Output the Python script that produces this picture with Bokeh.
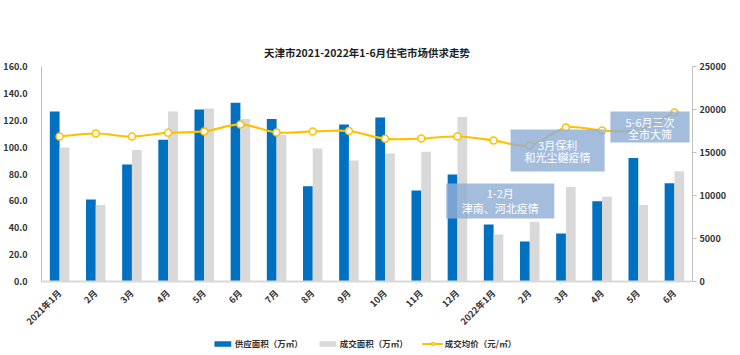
from bokeh.plotting import figure
from bokeh.layouts import column
from bokeh.models import (Range1d, LinearAxis, FixedTicker, Legend, LegendItem,
                          ColumnDataSource, NumeralTickFormatter)
from bokeh.embed import file_html
from bokeh.resources import INLINE
from bokeh.core.properties import value
from bokeh.transform import dodge

# ---- data ----
months = ["2021年1月", "2月", "3月", "4月", "5月", "6月", "7月", "8月", "9月",
          "10月", "11月", "12月", "2022年1月", "2月", "3月", "4月", "5月", "6月"]
supply = [126.5, 61.0, 87.0, 105.5, 128.0, 133.0, 121.0, 70.8, 116.8,
          122.0, 67.7, 79.6, 42.5, 29.8, 35.7, 59.8, 92.0, 73.2]
deal = [99.7, 57.0, 97.8, 126.5, 128.8, 121.0, 109.0, 99.0, 90.0,
        95.3, 96.5, 122.5, 35.0, 44.5, 70.3, 63.0, 57.0, 82.0]
price = [16860, 17210, 16860, 17300, 17450, 18260, 17330, 17450, 17500,
         16600, 16630, 16860, 16400, 15820, 17900, 17560, 17600, 19650]

left_ticks = [0, 20, 40, 60, 80, 100, 120, 140, 160]
right_ticks = [0, 5000, 10000, 15000, 20000, 25000]
legend_labels = ["供应面积（万㎡）", "成交面积（万㎡）", "成交均价（元/㎡）"]

note_lines = [["1-2月", "津南、河北疫情"], ["3月保利", "和光尘樾疫情"], ["5-6月三次", "全市大筛"]]
# annotation box extents (x in category index units, y in left-axis units)
note_left = [10.69, 12.47, 15.23]
note_right = [13.68, 15.07, 17.42]
note_bottom = [46.9, 81.8, 103.4]
note_top = [72.9, 113.1, 126.5]
note_text_y = [[65.5, 55.0], [101.5, 92.5], [119.0, 110.0]]

FONT = "Noto Sans CJK SC"
BLUE = "#0070C0"
GREY = "#D9D9D9"
GOLD = "#FFC000"
TXT = "#333333"

idx = list(range(len(months)))
src = ColumnDataSource(dict(x=idx, supply=supply, deal=deal, price=price))

# smoothed price line (Excel-style cubic segments through the data points)
n = len(price)
seg = dict(x0=[], y0=[], x1=[], y1=[], cx0=[], cy0=[], cx1=[], cy1=[])
for i in range(n - 1):
    i0, i3 = max(i - 1, 0), min(i + 2, n - 1)
    seg["x0"].append(idx[i]); seg["y0"].append(price[i])
    seg["x1"].append(idx[i + 1]); seg["y1"].append(price[i + 1])
    seg["cx0"].append(idx[i] + (idx[i + 1] - idx[i0]) / 6)
    seg["cy0"].append(price[i] + (price[i + 1] - price[i0]) / 6)
    seg["cx1"].append(idx[i + 1] - (idx[i3] - idx[i]) / 6)
    seg["cy1"].append(price[i + 1] - (price[i3] - price[i]) / 6)
seg_src = ColumnDataSource(seg)

p = figure(frame_width=651, frame_height=215, output_backend="svg", toolbar_location=None,
           x_range=Range1d(-0.5, len(months) - 0.5), y_range=Range1d(0, 160),
           min_border_left=36, min_border_right=30, min_border_top=66, min_border_bottom=40)
p.extra_y_ranges = {"price": Range1d(0, 25000)}

p.title.text = "天津市2021-2022年1-6月住宅市场供求走势"
p.title.align = "center"
p.title.offset = 4
p.title.text_font = FONT
p.title.text_font_size = "10.5px"
p.title.text_font_style = "bold"
p.title.text_color = "#222222"
p.title.standoff = 14

p.xgrid.visible = False
p.ygrid.visible = False
p.outline_line_color = None
p.background_fill_color = "white"
p.border_fill_color = "white"

r1 = p.vbar(x=dodge("x", -0.135, range=p.x_range), top="supply", width=0.27,
            source=src, fill_color=BLUE, line_color=None)
r2 = p.vbar(x=dodge("x", 0.135, range=p.x_range), top="deal", width=0.27,
            source=src, fill_color=GREY, line_color=None)
r3 = p.bezier(x0="x0", y0="y0", x1="x1", y1="y1", cx0="cx0", cy0="cy0",
              cx1="cx1", cy1="cy1", source=seg_src, y_range_name="price",
              line_color=GOLD, line_width=2.2)
r4 = p.scatter(x="x", y="price", source=src, y_range_name="price", marker="circle",
               size=7, fill_color="white", line_color=GOLD, line_width=1.5)

# annotation boxes
p.quad(left=note_left, right=note_right, bottom=note_bottom, top=note_top,
       fill_color="#91AFD5", fill_alpha=0.82, line_color=None)
for i, lines in enumerate(note_lines):
    cx = (note_left[i] + note_right[i]) / 2
    for j, t in enumerate(lines):
        p.text(x=[cx], y=[note_text_y[i][j]], text=[t], text_align="center",
               text_baseline="middle", text_color="white",
               text_font=value(FONT), text_font_size="11px")

# axes
xa = p.xaxis[0]
xa.ticker = FixedTicker(ticks=idx)
xa.major_label_overrides = {i: m for i, m in enumerate(months)}
xa.major_label_orientation = 0.785
xa.major_label_text_font = FONT
xa.major_label_text_font_size = "9px"
xa.major_label_text_font_style = "bold"
xa.major_label_text_color = TXT
xa.axis_line_color = GREY
xa.axis_line_width = 2
xa.major_tick_line_color = None
xa.minor_tick_line_color = None
xa.major_label_standoff = 4

ya = p.yaxis[0]
ya.ticker = FixedTicker(ticks=left_ticks)
ya.formatter = NumeralTickFormatter(format="0.0")
ya.major_label_text_font = FONT
ya.major_label_text_font_size = "9px"
ya.major_label_text_font_style = "bold"
ya.major_label_text_color = TXT
ya.axis_line_color = "#BFBFBF"
ya.major_tick_line_color = None
ya.minor_tick_line_color = None
ya.major_label_standoff = 8

ra = LinearAxis(y_range_name="price", ticker=FixedTicker(ticks=right_ticks))
ra.major_label_text_font = FONT
ra.major_label_text_font_size = "9px"
ra.major_label_text_font_style = "bold"
ra.major_label_text_color = TXT
ra.axis_line_color = "#BFBFBF"
ra.major_tick_line_color = "#BFBFBF"
ra.major_tick_out = 4
ra.major_tick_in = 0
ra.minor_tick_line_color = None
ra.major_label_standoff = 3
p.add_layout(ra, "right")

# legend strip (separate small figure below the chart); its renderers hold a
# single off-screen point only so the legend can draw their glyphs
lg = figure(width=724, height=16, output_backend="svg", toolbar_location=None,
            x_range=Range1d(0, 1), y_range=Range1d(0, 1),
            min_border=0, outline_line_color=None)
lg.axis.visible = False
lg.grid.visible = False
e = ColumnDataSource(dict(x=[-5], y=[-5]))
d1 = lg.vbar(x="x", top="y", width=0.1, source=e, fill_color=BLUE, line_color=None)
d2 = lg.vbar(x="x", top="y", width=0.1, source=e, fill_color=GREY, line_color=None)
d3 = lg.line(x="x", y="y", source=e, line_color=GOLD, line_width=2.2)
d4 = lg.scatter(x="x", y="y", source=e, marker="circle", size=7,
                fill_color="white", line_color=GOLD, line_width=1.5)
legend = Legend(items=[LegendItem(label=legend_labels[0], renderers=[d1]),
                       LegendItem(label=legend_labels[1], renderers=[d2]),
                       LegendItem(label=legend_labels[2], renderers=[d3, d4])],
                orientation="horizontal", location="bottom",
                glyph_width=21, glyph_height=7, label_standoff=2, spacing=14,
                padding=0, margin=2, border_line_color=None, background_fill_alpha=0,
                label_text_font=FONT, label_text_font_size="8.5px",
                label_text_font_style="bold", label_text_color=TXT,
                label_height=10)
lg.add_layout(legend, "center")

layout = column(p, lg, spacing=0)
open("out.html", "w").write(file_html(layout, INLINE))
